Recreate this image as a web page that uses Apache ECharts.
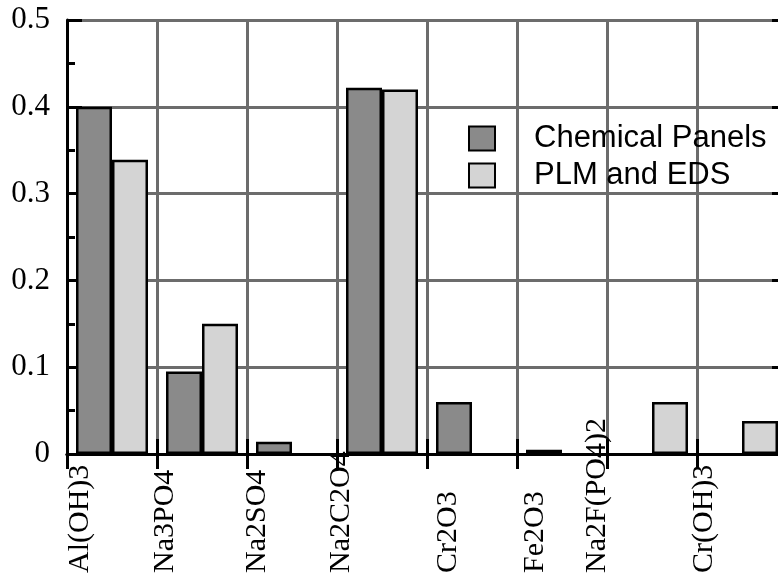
<!DOCTYPE html>
<html>
<head>
<meta charset="utf-8">
<script src="https://cdn.jsdelivr.net/npm/echarts@6/dist/echarts.min.js"></script>
<style>
html,body{margin:0;padding:0;background:#fff;}
#chart{width:778px;height:581px;}
</style>
</head>
<body>
<div id="chart"></div>
<script>
// ---- data ----
const categories = ['Al(OH)3', 'Na3PO4', 'Na2SO4', 'Na2C2O4', 'Cr2O3', 'Fe2O3', 'Na2F(PO4)2', 'Cr(OH)3'];
const chemicalPanels = [0.400, 0.095, 0.014, 0.422, 0.060, 0.005, null, null];
const plmAndEds = [0.339, 0.150, null, 0.420, null, null, 0.060, 0.038];
const seriesNames = ['Chemical Panels', 'PLM and EDS'];
const yMin = 0, yMax = 0.5, yStep = 0.1;

// ---- style (label nudges in px, negative = left) ----
const labelNudge = [-32, -37, -35, -41, -24, -27, -55, -38];
const labelBoxLen = 150;

const serif = '"Liberation Serif", "Times New Roman", serif';
const sans = '"Liberation Sans", Arial, sans-serif';
const gridLine = { show: true, lineStyle: { color: '#6c6c6c', width: 3, type: 'solid' } };

const rich = {};
labelNudge.forEach((s, i) => {
  rich['r' + i] = {
    width: labelBoxLen, align: 'left',
    fontFamily: serif, fontSize: 30, color: '#000', lineHeight: 30,
    padding: s < 0 ? [0, 0, -2 * s, 0] : [2 * s, 0, 0, 0]
  };
});

const chart = echarts.init(document.getElementById('chart'), null, { renderer: 'canvas' });
chart.setOption({
  animation: false,
  backgroundColor: '#fff',
  grid: { left: 67, right: -9, top: 20, bottom: 127, containLabel: false, outerBoundsMode: 'none' },
  legend: {
    orient: 'vertical',
    left: 468, top: 123, padding: 0,
    icon: 'rect',
    itemWidth: 26, itemHeight: 24, itemGap: 6,
    textStyle: { fontFamily: sans, fontSize: 31, color: '#000', lineHeight: 30, padding: [0, 0, 0, 34] },
    data: seriesNames
  },
  xAxis: [
    {
      type: 'category', data: categories, position: 'bottom',
      axisLine: { show: true, lineStyle: { color: '#000', width: 3 } },
      axisTick: { show: true, inside: true, length: 15, lineStyle: { color: '#000', width: 3 } },
      splitLine: gridLine,
      axisLabel: {
        interval: 0, rotate: 90, margin: 573 - labelBoxLen - 454,
        formatter: (v, i) => '{r' + i + '|' + v + '}',
        rich: rich,
        fontFamily: serif, fontSize: 30, color: '#000'
      }
    },
    {
      type: 'category', data: categories, position: 'top',
      axisLine: { show: true, lineStyle: { color: '#000', width: 3 } },
      axisTick: { show: true, inside: true, length: 15, lineStyle: { color: '#000', width: 3 } },
      axisLabel: { show: false }, splitLine: { show: false }
    }
  ],
  yAxis: [
    {
      type: 'value', min: yMin, max: yMax, interval: yStep, position: 'left',
      axisLine: { show: true, lineStyle: { color: '#000', width: 3 } },
      axisTick: { show: true, inside: true, length: 15, lineStyle: { color: '#000', width: 3 } },
      minorTick: { show: true, splitNumber: 2, length: 8, lineStyle: { color: '#000', width: 3 } },
      splitLine: gridLine,
      axisLabel: { margin: 17, fontFamily: serif, fontSize: 31, color: '#000' }
    },
    {
      type: 'value', min: yMin, max: yMax, interval: yStep, position: 'right',
      axisLine: { show: true, lineStyle: { color: '#000', width: 3 } },
      axisTick: { show: true, inside: true, length: 15, lineStyle: { color: '#000', width: 3 } },
      axisLabel: { show: false }, splitLine: { show: false }
    }
  ],
  series: [
    {
      name: seriesNames[0], type: 'bar', data: chemicalPanels,
      barGap: '0%', barCategoryGap: '20%',
      itemStyle: { color: '#8a8a8a', borderColor: '#000', borderWidth: 2.5 }
    },
    {
      name: seriesNames[1], type: 'bar', data: plmAndEds,
      barGap: '0%', barCategoryGap: '20%',
      itemStyle: { color: '#d4d4d4', borderColor: '#000', borderWidth: 2.5 }
    }
  ]
});
</script>
</body>
</html>
